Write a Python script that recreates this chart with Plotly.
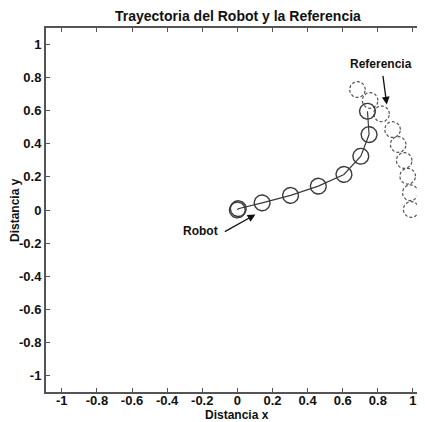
import numpy as np
import plotly.graph_objects as go

# Robot trajectory (circle centers)
robot_x = [0.0, 0.005, 0.141, 0.303, 0.461, 0.607, 0.703, 0.750, 0.741]
robot_y = [0.0, 0.008, 0.043, 0.088, 0.144, 0.215, 0.325, 0.456, 0.597]
# Reference trajectory (circle centers)
ref_x = [0.990, 0.985, 0.970, 0.950, 0.916, 0.884, 0.821, 0.756, 0.684]
ref_y = [0.003, 0.104, 0.204, 0.299, 0.396, 0.486, 0.581, 0.662, 0.728]
radius = 0.045

x_ticks = [-1, -0.8, -0.6, -0.4, -0.2, 0, 0.2, 0.4, 0.6, 0.8, 1]
y_ticks = [-1, -0.8, -0.6, -0.4, -0.2, 0, 0.2, 0.4, 0.6, 0.8, 1]

title = "Trayectoria del Robot y la Referencia"
xlabel = "Distancia x"
ylabel = "Distancia y"

ink = "#3a3a3a"
font = "Liberation Sans, Arial, sans-serif"

t = np.linspace(0, 2 * np.pi, 61)


def circles(cx, cy, r, sx=1.0, sy=1.0):
    xs, ys = [], []
    for a, b in zip(cx, cy):
        xs += list(a + r * sx * np.cos(t)) + [None]
        ys += list(b + r * sy * np.sin(t)) + [None]
    return xs, ys


# aspect correction so circles look round on screen (175 px/unit in x, 165.5 in y)
sy = 175 / 165.5

fig = go.Figure()

rx, ry = circles(ref_x, ref_y, radius, 1.0, sy)
fig.add_trace(go.Scatter(x=rx, y=ry, mode="lines",
                         line=dict(color="#555555", width=1.2, dash="3px,2px"),
                         hoverinfo="skip", showlegend=False))

fig.add_trace(go.Scatter(x=robot_x, y=robot_y, mode="lines",
                         line=dict(color=ink, width=1.2),
                         hoverinfo="skip", showlegend=False))

cx, cy = circles(robot_x, robot_y, radius, 1.0, sy)
fig.add_trace(go.Scatter(x=cx, y=cy, mode="lines",
                         line=dict(color=ink, width=1.4),
                         hoverinfo="skip", showlegend=False))

fig.add_annotation(x=0.851, y=0.637, ax=0.828, ay=0.82, xref="x", yref="y",
                   axref="x", ayref="y", text="", showarrow=True,
                   arrowhead=2, arrowsize=1.2, arrowwidth=1.3, arrowcolor="#111111")
fig.add_annotation(x=0.817, y=0.88, xref="x", yref="y", text="<b>Referencia</b>",
                   showarrow=False, font=dict(family=font, size=12, color="#111111"))
fig.add_annotation(x=0.103, y=-0.027, ax=-0.08, ay=-0.136, xref="x", yref="y",
                   axref="x", ayref="y", text="", showarrow=True,
                   arrowhead=2, arrowsize=1.2, arrowwidth=1.3, arrowcolor="#111111")
fig.add_annotation(x=-0.211, y=-0.124, xref="x", yref="y", text="<b>Robot</b>",
                   showarrow=False, font=dict(family=font, size=12, color="#111111"))

# axis titles and chart title as paper annotations (positions in window pixels)
fig.add_annotation(x=237, y=415, xref="paper", yref="paper", text="<b>" + xlabel + "</b>",
                   showarrow=False, font=dict(family=font, size=12, color="#111111"))
fig.add_annotation(x=15, y=210, xref="paper", yref="paper", text="<b>" + ylabel + "</b>",
                   textangle=-90, showarrow=False,
                   font=dict(family=font, size=12, color="#111111"))
fig.add_annotation(x=238, y=16, xref="paper", yref="paper", text="<b>" + title + "</b>",
                   showarrow=False, font=dict(family=font, size=14, color="#111111"))

# page body has an 8px margin; figure coordinates = window coordinates - 8
OFF = 8
W, H = 425, 422
L, R, T, B = 46 - OFF, 6, 28 - OFF, 422 - 392 + OFF
pw, ph = W - L - R, H - T - B
for ann in fig.layout.annotations:
    if ann.xref == "paper":
        ann.x = (ann.x - OFF - L) / pw
        ann.y = (H - B - (ann.y - OFF)) / ph
        ann.xanchor = "center"
        ann.yanchor = "middle"

fig.update_layout(
    width=W, height=H,
    margin=dict(l=L, r=R, t=T, b=B, autoexpand=False),
    paper_bgcolor="white", plot_bgcolor="white",
    font=dict(family=font, size=13, color="#111111"),
    xaxis=dict(range=[-1.09, 1.08], tickvals=x_ticks,
               ticktext=["<b>%g</b>" % v for v in x_ticks],
               showgrid=False, zeroline=False, showline=True, linecolor="#555555",
               linewidth=2, mirror="ticks", ticks="inside", ticklen=4,
               tickcolor="#555555", tickfont=dict(size=13), automargin=False,
               ticklabelstandoff=-5),
    yaxis=dict(range=[-1.1, 1.1], tickvals=y_ticks,
               ticktext=["<b>%g</b>" % v for v in y_ticks],
               showgrid=False, zeroline=False, showline=True, linecolor="#555555",
               linewidth=2, mirror="ticks", ticks="inside", ticklen=4,
               tickcolor="#555555", tickfont=dict(size=13), automargin=False),
)

fig.write_html("out.html")
